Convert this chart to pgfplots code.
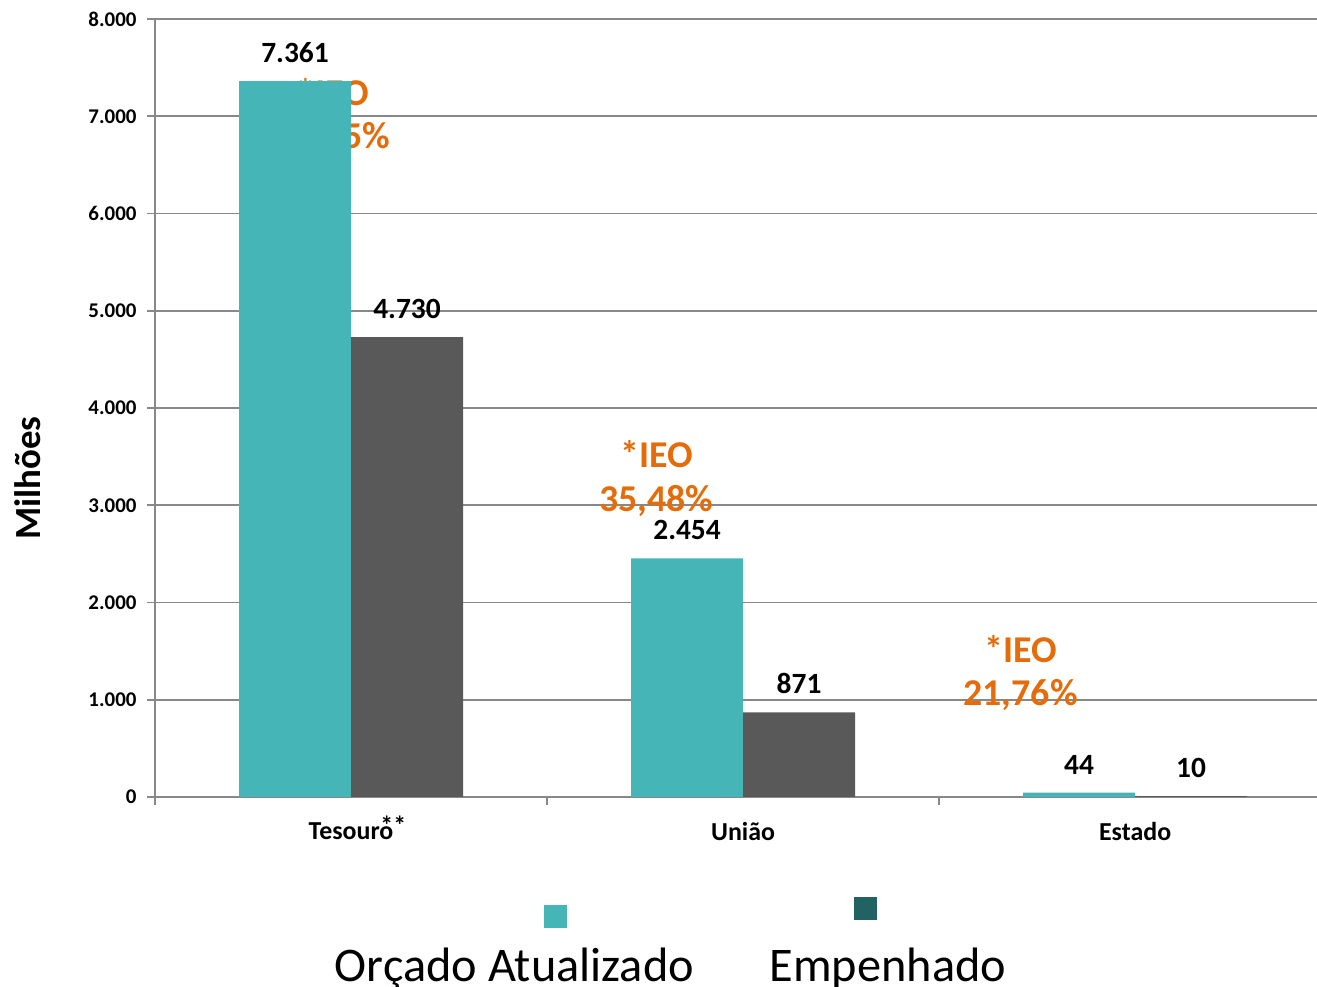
\documentclass[border=0pt]{standalone}
\usepackage{pgfplots}
\pgfplotsset{compat=1.18}
\usepackage{fontspec}
\setmainfont{Carlito}
\definecolor{tealbar}{HTML}{46B5B7}
\definecolor{graybar}{HTML}{595959}
\definecolor{darkteal}{HTML}{236262}
\definecolor{ieo}{HTML}{E46C0A}
\definecolor{gridc}{HTML}{888888}
\begin{document}
\begin{tikzpicture}
\begin{axis}[
  set layers,
  at={(155bp,190bp)}, anchor=south west,
  scale only axis, width=1162bp, height=778bp,
  xmin=-0.5, xmax=2.464, ymin=0, ymax=8000,
  ybar=0pt, bar width=112bp,
  axis x line*=bottom, axis y line*=left,
  axis line style={gridc, line width=1.6bp, -},
  ytick={0,1000,...,8000},
  ymajorgrids, grid style={gridc, line width=1.6bp},
  major tick style={gridc, line width=1.6bp},
  tick align=outside, major tick length=8bp,
  xtick={0,1,2},
  xticklabels={Tesouro\rlap{\kern-0.5em\smash{\raisebox{0.42ex}{**}}}, União, Estado},
  x tick style={draw=none},
  extra x ticks={-0.5,0.5,1.5},
  extra x tick labels={},
  extra x tick style={x tick style={draw=gridc, line width=1.6bp}, grid=none},
  /pgf/number format/assume math mode=true,
  /pgf/number format/1000 sep={.},
  y tick label style={font=\fontsize{21}{24}\selectfont\bfseries, xshift=-7bp},
  x tick label style={font=\fontsize{26}{30}\selectfont\bfseries, yshift=-14bp},
  nodes near coords,
  every node near coord/.append style={font=\fontsize{29.5}{32}\selectfont\bfseries, text=black, inner sep=0pt, anchor=south, yshift=18bp},
]
\node[on layer=axis background, text=ieo, font=\fontsize{38}{44}\selectfont\bfseries, align=center] at (axis cs:-0.046,7003) {*IEO\\64,25\%};
\node[on layer=axis background, text=ieo, font=\fontsize{38}{44}\selectfont\bfseries, align=center] at (axis cs:0.779,3275) {*IEO\\35,48\%};
\node[on layer=axis background, text=ieo, font=\fontsize{38}{44}\selectfont\bfseries, align=center] at (axis cs:1.708,1275) {*IEO\\21,76\%};
\addplot[fill=tealbar, draw=none] coordinates {(0,7361) (1,2454) (2,44)};
\addplot[fill=graybar, draw=none] coordinates {(0,4730) (1,871) (2,10)};
\end{axis}
\node[rotate=90, font=\fontsize{37}{42}\selectfont\bfseries] at (28bp,509bp) {Milhões};
\fill[tealbar] (544bp,59bp) rectangle (567bp,82bp);
\fill[darkteal] (854bp,67bp) rectangle (877bp,90bp);
\node[anchor=base, font=\fontsize{48.5}{54}\selectfont, inner sep=0pt] at (514.5bp,6bp) {Orçado Atualizado};
\node[anchor=base, font=\fontsize{48.5}{54}\selectfont, inner sep=0pt] at (888bp,6bp) {Empenhado};
\pgfresetboundingbox
\path[use as bounding box] (0bp,0bp) rectangle (1317bp,987bp);
\end{tikzpicture}
\end{document}
